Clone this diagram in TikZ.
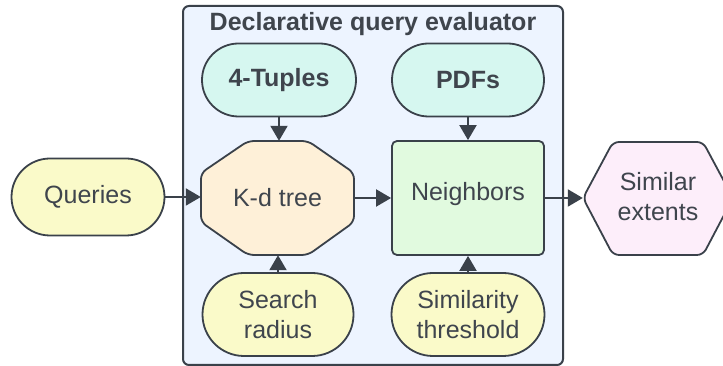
\documentclass[tikz,border=0pt]{standalone}
\usepackage{fontspec}
\setmainfont{Liberation Sans}
\usetikzlibrary{shapes.misc,arrows.meta}
\definecolor{edge}{HTML}{3A414A}
\definecolor{txt}{HTML}{3F454D}
\definecolor{boxbg}{HTML}{EDF4FF}
\definecolor{yel}{HTML}{FAFAC9}
\definecolor{teal}{HTML}{D6F7F0}
\definecolor{peach}{HTML}{FEF0D8}
\definecolor{grn}{HTML}{E1FADF}
\definecolor{pink}{HTML}{FDEEFA}
\tikzset{
  lbl/.style={font=\fontsize{25}{30}\selectfont, text=txt, align=center},
  bflbl/.style={font=\fontsize{25}{30}\selectfont\bfseries},
  stad/.style={lbl, rounded rectangle, draw=edge, line width=1.8pt, inner sep=0pt},
  ghost/.style={lbl, rectangle, inner sep=0pt},
  conn/.style={draw=edge, line width=2pt, -{Triangle[length=15pt,width=17pt]}},
}
\begin{document}
\begin{tikzpicture}[x=1pt,y=1pt]
\useasboundingbox (0,0) rectangle (723,366);
% container
\draw[fill=boxbg, draw=edge, line width=2pt, rounded corners=6pt] (183,1) rectangle (563,360);
\node[lbl, bflbl] (title) at (373,342) {Declarative query evaluator};

% top stadiums
\node[stad, bflbl, fill=teal, minimum width=154pt, minimum height=73pt] (tup) at (279,286) {4-Tuples};
\node[stad, bflbl, fill=teal, minimum width=152pt, minimum height=73pt] (pdf) at (468,286) {PDFs};

% K-d tree octagon
\draw[fill=peach, draw=edge, line width=1.8pt, rounded corners=6pt]
  (248,225) -- (308,225) -- (354,193) -- (354,144) -- (308,111) -- (248,111) -- (201,144) -- (201,193) -- cycle;
\node[ghost, minimum width=153pt, minimum height=114pt] (kd) at (277.5,168) {K-d tree};

% Neighbors
\node[lbl, rectangle, draw=edge, fill=grn, line width=1.8pt, rounded corners=5pt, minimum width=152pt, minimum height=114pt] (nb) at (468,168) {};
\node[lbl] (nbt) at (468,172) {Neighbors};

% bottom stadiums
\node[stad, fill=yel, minimum width=151pt, minimum height=83pt] (sr) at (278,51.5) {Search\\radius};
\node[stad, fill=yel, minimum width=153pt, minimum height=83pt] (st) at (468,51.5) {Similarity\\threshold};

% Queries
\node[stad, fill=yel, minimum width=153pt, minimum height=77pt] (q) at (88,169) {Queries};

% Similar extents hexagon
\draw[fill=pink, draw=edge, line width=1.8pt, rounded corners=6pt]
  (583,168) -- (613,224) -- (703,224) -- (733,168) -- (703,111) -- (613,111) -- cycle;
\node[ghost, minimum width=150pt, minimum height=113pt] (se) at (658,169) {Similar\\extents};

% connectors
\draw[conn] (q.east) -- (q.east -| kd.west);
\draw[conn] (kd.east) -- (kd.east -| nb.west);
\draw[conn] (nb.east |- kd.east) -- (nb.east |- kd.east -| se.west);
\draw[conn] (tup.south) -- (tup.south |- kd.north);
\draw[conn] (pdf.south) -- (pdf.south |- nb.north);
\draw[conn] (sr.north) -- (sr.north |- kd.south);
\draw[conn] (st.north) -- (st.north |- nb.south);
\end{tikzpicture}
\end{document}
